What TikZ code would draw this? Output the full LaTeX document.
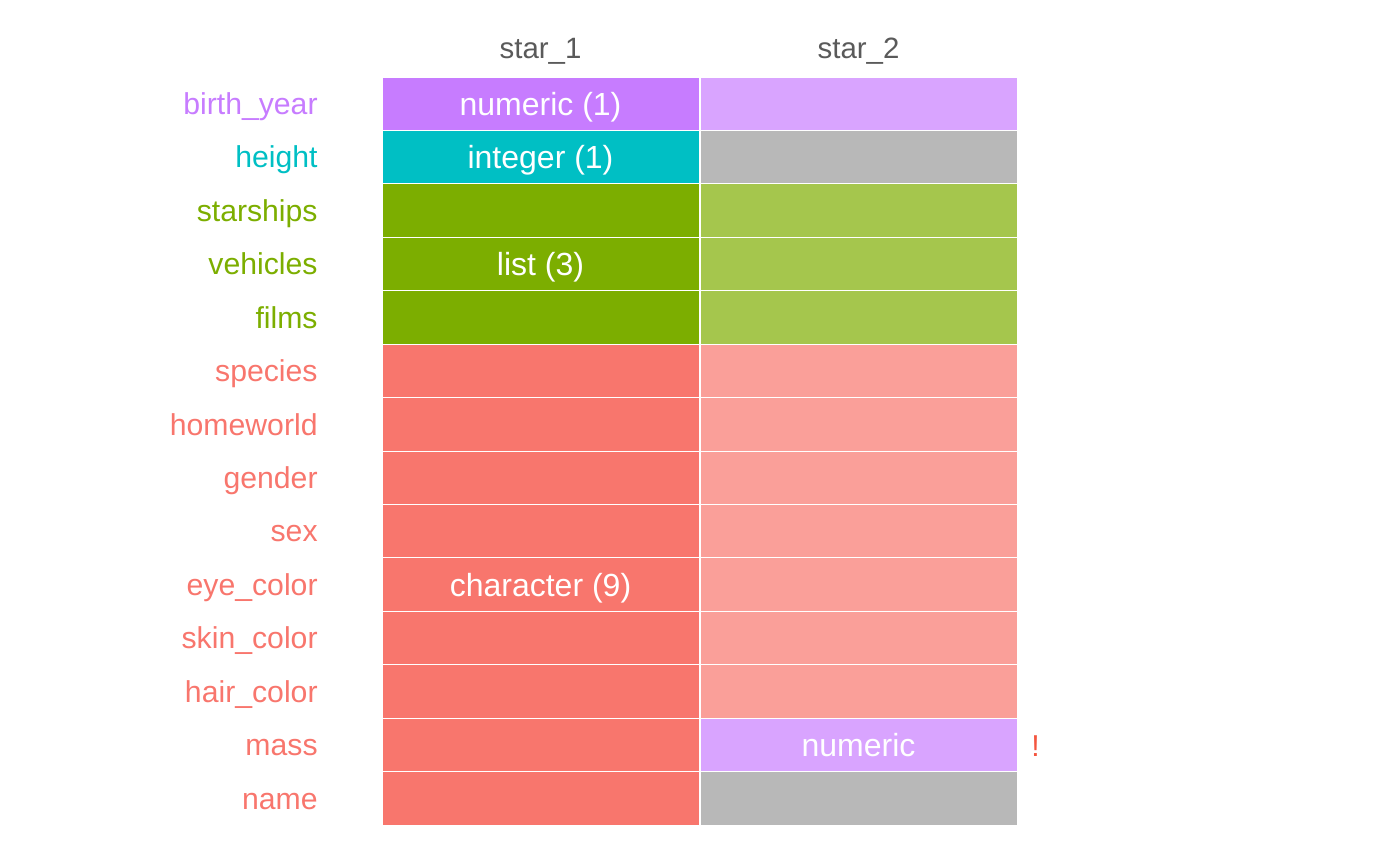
\documentclass[tikz,border=0pt]{standalone}
\usepackage{fontspec}
\setmainfont{Liberation Sans}
\definecolor{cpurple}{HTML}{C77CFF}
\definecolor{cpurplel}{HTML}{D9A4FF}
\definecolor{cteal}{HTML}{00BFC4}
\definecolor{cgreen}{HTML}{7CAE00}
\definecolor{cgreenl}{HTML}{A5C64D}
\definecolor{cred}{HTML}{F8766D}
\definecolor{credl}{HTML}{FA9F99}
\definecolor{cgrey}{HTML}{B8B8B8}
\definecolor{chead}{HTML}{5A5A5A}
\definecolor{cbang}{HTML}{F4553F}
\begin{document}
\begin{tikzpicture}[x=0.5pt,y=-0.5pt,
  cell/.style={draw=white,line width=0.4pt,inner sep=0pt,minimum width=158.5pt,minimum height=26.7pt,anchor=center,
    font=\fontsize{16}{18}\selectfont,text=white,text height=11.46pt,text depth=0pt},
  rowlab/.style={anchor=east,inner sep=0pt,font=\fontsize{15.1}{17}\selectfont,text height=10.8pt,text depth=0pt},
  head/.style={inner sep=0pt,font=\fontsize{14.7}{17}\selectfont,text=chead,text height=10.5pt,text depth=0pt}]
\useasboundingbox (0,0) rectangle (1400,865);
\def\rh{53.43}
% headers
\node[head] (h1) at (540.5,48) {star\_1};
\node[head] (h2) at (858.5,48) {star\_2};
% column 1
\foreach \i/\c/\t in {0/cpurple/numeric (1),1/cteal/integer (1),2/cgreen/,3/cgreen/list (3),4/cgreen/,
  5/cred/,6/cred/,7/cred/,8/cred/,9/cred/character (9),10/cred/,11/cred/,12/cred/,13/cred/}{
  \node[cell,fill=\c] (a\i) at (540.5,{77+\rh*(\i+0.5)}) {\t};
}
% column 2
\foreach \i/\c/\t in {0/cpurplel/,1/cgrey/,2/cgreenl/,3/cgreenl/,4/cgreenl/,
  5/credl/,6/credl/,7/credl/,8/credl/,9/credl/,10/credl/,11/credl/,12/cpurplel/numeric,13/cgrey/}{
  \node[cell,fill=\c] (b\i) at (858.5,{77+\rh*(\i+0.5)}) {\t};
}
% row labels
\foreach \i/\c/\t in {0/cpurple/birth\_year,1/cteal/height,2/cgreen/starships,3/cgreen/vehicles,4/cgreen/films,
  5/cred/species,6/cred/homeworld,7/cred/gender,8/cred/sex,9/cred/eye\_color,10/cred/skin\_color,
  11/cred/hair\_color,12/cred/mass,13/cred/name}{
  \node[rowlab,text=\c] (l\i) at (318,{77+\rh*(\i+0.5)}) {\t};
}
\node[inner sep=0pt,anchor=west,text=cbang,font=\fontsize{15.1}{17}\selectfont,text height=10.8pt,text depth=0pt] (bang) at (1031,746) {!};
\end{tikzpicture}
\end{document}
